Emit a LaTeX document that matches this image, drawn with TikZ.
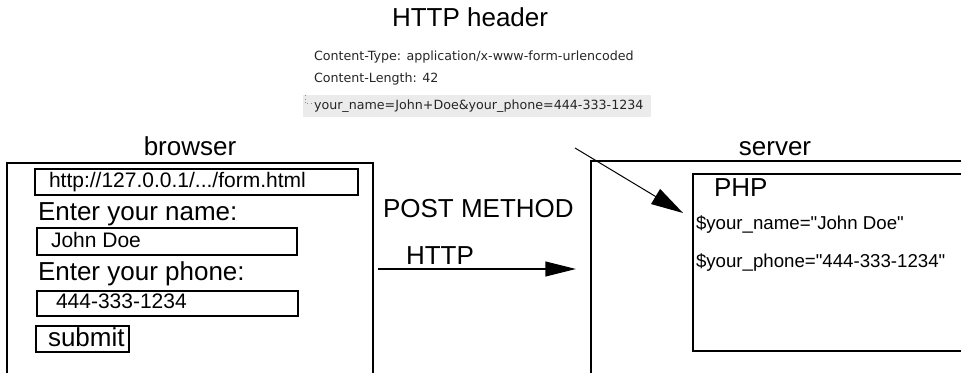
\documentclass[tikz,border=0pt]{standalone}
\usepackage{fontspec}
\setmainfont{Liberation Sans}
\newfontfamily\hdrfont{DejaVu Sans}
\usetikzlibrary{arrows.meta}
\tikzstyle{every node}=[inner sep=0pt, anchor=base west]
\tikzstyle{big}=[font=\fontsize{19.5}{22}\selectfont]
\tikzstyle{mid}=[font=\fontsize{15.75}{18}\selectfont]
\tikzstyle{small}=[font=\fontsize{14}{16}\selectfont]
\tikzstyle{hdr}=[font=\hdrfont\fontsize{9.5}{11}\selectfont, text=black!85]
\tikzstyle{bighead}=[-{Triangle[length=23pt,width=11pt]}]

\begin{document}
\begin{tikzpicture}[x=0.75pt, y=-0.75pt, line width=1.5pt]
	\useasboundingbox (0,0) rectangle (961,373);
	\clip (0,0) rectangle (961,373);
	% HTTP header
	\node[big] (title) at (391,27) {HTTP header};
	\fill[black!8] (303,95) rectangle (651,117);
	\draw[black!45, dotted, line width=0.75pt] (305,95) -- (305,104) -- (311,104);
	\node[hdr] (ctype) at (313,61) {Content-Type: application/x-www-form-urlencoded};
	\node[hdr] (clength) at (313,83) {Content-Length: 42};
	\node[hdr] (body) at (313,110) {your\_name=John+Doe\&your\_phone=444-333-1234};
	% browser
	\node[big, anchor=base] (browser) at (190,156) {browser};
	\draw (7,163) rectangle (373,400);
		\draw (35,169) rectangle (358,195);
		\node[mid] (url) at (48,188) {http://127.0.0.1/.../form.html};
		\node[big] (askname) at (37,221) {Enter your name:};
		\draw (37,228) rectangle (297,255);
		\node[mid] (name) at (50,248) {John Doe};
		\node[big] (askphone) at (37,281) {Enter your phone:};
		\draw (37,291) rectangle (298,316);
		\node[mid] (phone) at (55,309) {444-333-1234};
		\draw (36,326) rectangle (129,352);
		\node[big] (submit) at (47,347) {submit};
	% POST
	\node[big] (post) at (382,218) {POST METHOD};
	\node[big] (http) at (405,265) {HTTP};
	\coordinate (sendfrom) at (378,269);
	\coordinate (sendto) at (576,269);
	\draw[bighead] (sendfrom) -- (sendto);
	% server
	\node[big, anchor=base] (server) at (775,156) {server};
	\draw (591,161) rectangle (1000,400);
		\draw (693,174) rectangle (1000,351);
		\node[big] (php) at (713,197) {PHP};
		\node[small] (phpname) at (695,230) {\$your\_name=\textquotedbl John Doe\textquotedbl};
		\node[small] (phpphone) at (695,268) {\$your\_phone=\textquotedbl 444-333-1234\textquotedbl};
	\coordinate (hdrfrom) at (575,148);
	\coordinate (hdrto) at (683,213);
	\draw[line width=0.75pt, -{Triangle[length=24pt,width=13pt]}] (hdrfrom) -- (hdrto);
\end{tikzpicture}
\end{document}
